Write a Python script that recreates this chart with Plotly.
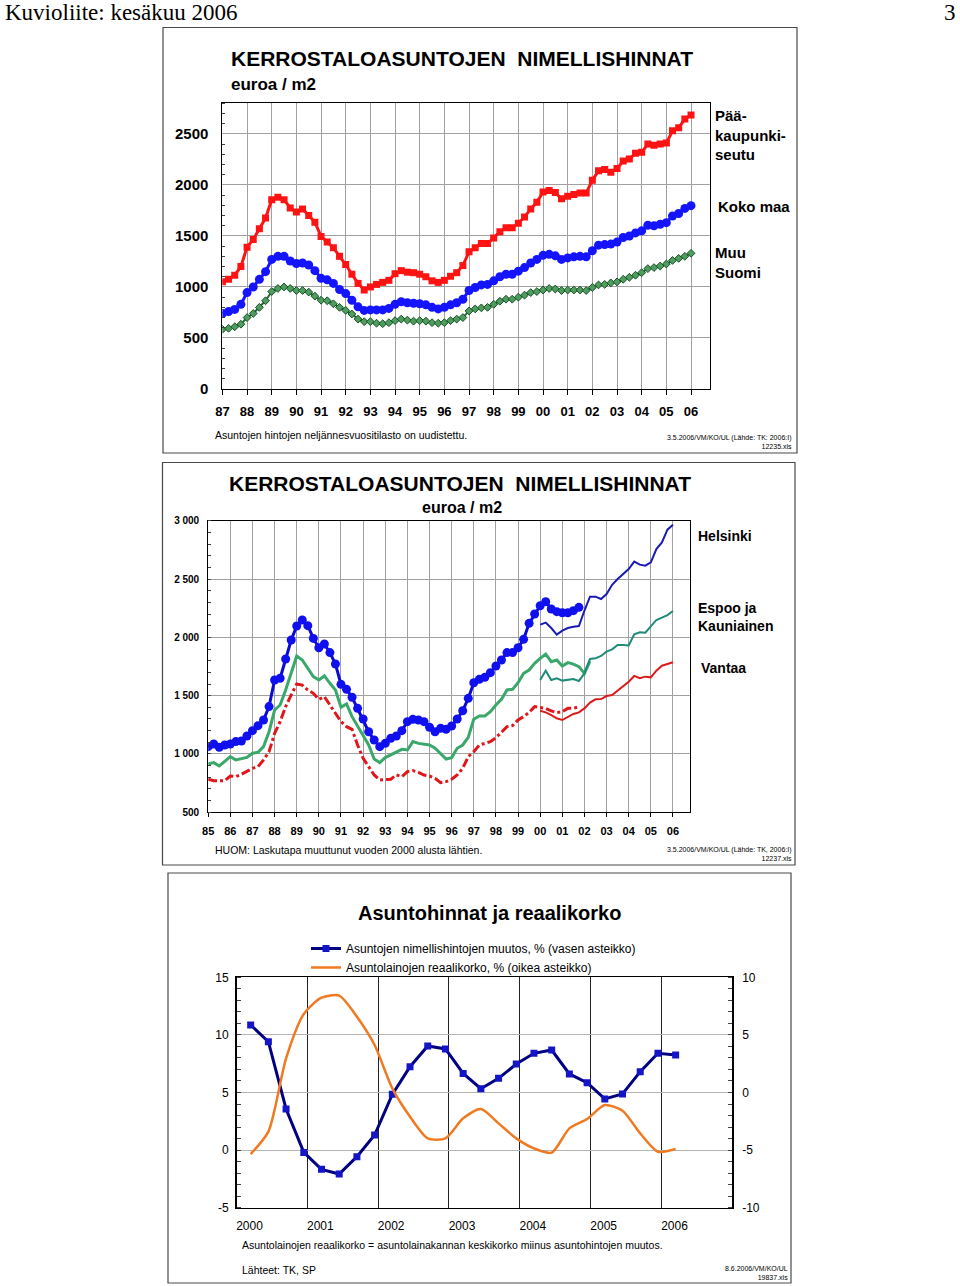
import plotly.graph_objects as go

W, H = 960, 1286
FONT = "Liberation Sans, Arial, sans-serif"

# ---------------- Chart 1 data: quarterly 1987Q1 - 2006Q1 (euro / m2) ----------------
c1_start_year = 1987
c1_year_labels = ["87", "88", "89", "90", "91", "92", "93", "94", "95", "96",
                  "97", "98", "99", "00", "01", "02", "03", "04", "05", "06"]
c1_paakaupunkiseutu = [
    1050, 1075, 1115, 1200,
    1390, 1465, 1570, 1675,
    1855, 1880, 1855, 1775,
    1735, 1765, 1700, 1635,
    1495, 1440, 1385, 1300,
    1220, 1125, 1035, 970,
    1000, 1025, 1045, 1065,
    1130, 1160, 1145, 1140,
    1125, 1100, 1060, 1045,
    1065, 1105, 1140, 1210,
    1345, 1385, 1425, 1425,
    1480, 1540, 1580, 1580,
    1625, 1685, 1765, 1830,
    1930, 1945, 1925, 1865,
    1890, 1905, 1920, 1920,
    2045, 2140, 2150, 2125,
    2160, 2235, 2255, 2310,
    2320, 2400, 2390, 2400,
    2410, 2530, 2560, 2645,
    2685]
c1_koko_maa = [
    740, 760, 780, 830,
    945, 1000, 1075, 1150,
    1270, 1300, 1300, 1255,
    1230, 1235, 1215, 1160,
    1085, 1070, 1035, 975,
    935, 870, 805, 770,
    775, 775, 775, 790,
    830, 855, 845, 840,
    835, 825, 800, 785,
    800, 825, 845, 880,
    965, 995, 1020, 1025,
    1060, 1100, 1125, 1125,
    1155, 1190, 1235, 1270,
    1310, 1320, 1305, 1270,
    1285, 1295, 1300, 1295,
    1355, 1410, 1415, 1420,
    1440, 1485, 1500, 1530,
    1550, 1605, 1600, 1615,
    1630, 1695, 1720, 1770,
    1797]
c1_muu_suomi = [
    585, 595, 610, 635,
    700, 740, 800, 865,
    955, 985, 1000, 985,
    965, 965, 950, 910,
    870, 865, 835, 800,
    770, 735, 685, 660,
    660, 645, 640, 650,
    670, 685, 675, 665,
    670, 665, 650, 645,
    650, 670, 685, 700,
    765, 785, 795, 800,
    830, 860, 880, 880,
    900, 920, 945, 955,
    970, 985, 980, 965,
    970, 970, 970, 965,
    995, 1020, 1025, 1040,
    1050, 1075, 1095, 1115,
    1140, 1180, 1190, 1205,
    1225, 1260, 1280, 1300,
    1330]

# ---------------- Chart 2 data: quarterly, old method 1985Q1-, new method 2000Q1- ----------------
c2_start_old = 1985
c2_start_new = 2000
c2_year_labels = ["85", "86", "87", "88", "89", "90", "91", "92", "93", "94", "95",
                  "96", "97", "98", "99", "00", "01", "02", "03", "04", "05", "06"]
c2_y_ticks = [500, 1000, 1500, 2000, 2500, 3000]
c2_y_tick_labels = ["500", "1 000", "1 500", "2 000", "2 500", "3 000"]
c2_helsinki_old = [
    1063, 1086, 1057, 1077,
    1086, 1106, 1111, 1154,
    1200, 1243, 1291, 1406,
    1634, 1649, 1814, 1977,
    2097, 2149, 2100, 1991,
    1911, 1943, 1869, 1771,
    1597, 1554, 1486, 1391,
    1300, 1191, 1120, 1063,
    1091, 1134, 1154, 1200,
    1277, 1297, 1291, 1277,
    1229, 1191, 1220, 1211,
    1240, 1300, 1371, 1477,
    1611, 1640, 1657, 1697,
    1754, 1806, 1869, 1869,
    1911, 1983, 2120, 2200,
    2271, 2306, 2243, 2220,
    2211, 2211, 2229, 2257]
c2_helsinki_new = [
    2109, 2126, 2080, 2023,
    2057, 2080, 2091, 2097,
    2230, 2349, 2349, 2329,
    2371, 2451, 2500, 2543,
    2586, 2649, 2623, 2614,
    2643, 2757, 2814, 2923,
    2966]
c2_espoo_old = [
    914, 926, 897, 934,
    977, 949, 957, 971,
    1006, 1014, 1063, 1191,
    1377, 1420, 1549, 1691,
    1840, 1806, 1729, 1663,
    1634, 1669, 1606, 1549,
    1400, 1429, 1320, 1240,
    1154, 1077, 957, 926,
    969, 991, 1014, 1040,
    1034, 1106, 1091, 1086,
    1077, 1049, 1006, 957,
    969, 1049, 1077, 1143,
    1297, 1326, 1326, 1363,
    1420, 1469, 1549, 1554,
    1611, 1691, 1720, 1777,
    1820, 1857, 1791, 1806,
    1754, 1783, 1771, 1749,
    1691, 1797]
c2_espoo_new = [
    1634, 1714, 1634, 1649,
    1629, 1634, 1643, 1626,
    1691, 1814, 1820, 1840,
    1877, 1897, 1934, 1934,
    1931, 2026, 2043, 2040,
    2091, 2149, 2169, 2191,
    2226]
c2_vantaa_old = [
    783, 771, 771, 771,
    811, 806, 826, 849,
    877, 891, 949, 1020,
    1177, 1277, 1406, 1506,
    1600, 1591, 1549, 1520,
    1469, 1491, 1420, 1349,
    1277, 1234, 1211, 1077,
    963, 891, 820, 777,
    777, 783, 820, 806,
    849, 857, 843, 820,
    811, 791, 754, 763,
    783, 820, 877, 977,
    1020, 1077, 1091, 1106,
    1140, 1183, 1234, 1243,
    1291, 1320, 1357, 1406,
    1400, 1391, 1369, 1354,
    1363, 1391, 1391, 1406]
c2_vantaa_new = [
    1371, 1357, 1334, 1306,
    1291, 1320, 1343, 1357,
    1391, 1440, 1469, 1471,
    1497, 1506, 1543, 1586,
    1620, 1669, 1649, 1663,
    1657, 1714, 1757, 1771,
    1786]

# ---------------- Chart 3 data: quarterly 2000Q1 - 2006Q1 ----------------
c3_years = [2000, 2001, 2002, 2003, 2004, 2005, 2006]
c3_year_labels = ["2000", "2001", "2002", "2003", "2004", "2005", "2006"]
c3_left_ticks = [-5, 0, 5, 10, 15]
c3_left_tick_labels = ["-5", "0", "5", "10", "15"]
c3_right_ticks = [-10, -5, 0, 5, 10]
c3_right_tick_labels = ["-10", "-5", "0", "5", "10"]
c3_first_quarter_pos = 0.2   # points sit a little after the year line
c3_price_change = [10.86, 9.41, 3.57, -0.20, -1.67, -2.08, -0.57, 1.31, 4.84, 7.24,
                   9.04, 8.78, 6.66, 5.33, 6.23, 7.47, 8.40, 8.69, 6.61, 5.85,
                   4.44, 4.87, 6.81, 8.40, 8.26]
c3_real_rate = [-5.34, -3.40, 2.97, 6.82, 8.23, 8.41, 6.58, 4.12, 0.36, -2.10,
                -3.98, -3.98, -2.24, -1.43, -2.68, -3.98, -4.85, -5.22, -3.11, -2.30,
                -1.09, -1.58, -3.55, -5.14, -4.91]


def qx(start, n):
    return [start + i / 4 for i in range(n)]


def px(x):
    return x / W


def py(y):
    return 1 - y / H


fig = go.Figure()

# ---------- Chart 1 traces ----------
fig.add_trace(go.Scatter(
    x=qx(c1_start_year, len(c1_paakaupunkiseutu)), y=c1_paakaupunkiseutu,
    mode="lines+markers", line=dict(color="#ff1212", width=3),
    marker=dict(symbol="square", size=7, color="#ff1212"),
    xaxis="x", yaxis="y", showlegend=False, hoverinfo="skip"))
fig.add_trace(go.Scatter(
    x=qx(c1_start_year, len(c1_koko_maa)), y=c1_koko_maa,
    mode="lines+markers", line=dict(color="#1414ff", width=3),
    marker=dict(symbol="circle", size=9, color="#1414ff"),
    xaxis="x", yaxis="y", showlegend=False, hoverinfo="skip"))
fig.add_trace(go.Scatter(
    x=qx(c1_start_year, len(c1_muu_suomi)), y=c1_muu_suomi,
    mode="lines+markers", line=dict(color="#1d6a2e", width=2),
    marker=dict(symbol="diamond", size=6, color="#4f9d5c",
                line=dict(color="#16502a", width=1)),
    xaxis="x", yaxis="y", showlegend=False, hoverinfo="skip"))

# ---------- Chart 2 traces ----------
fig.add_trace(go.Scatter(
    x=qx(c2_start_old, len(c2_vantaa_old)), y=c2_vantaa_old,
    mode="lines", line=dict(color="#e0161a", width=3, dash="dashdot"),
    xaxis="x2", yaxis="y2", showlegend=False, hoverinfo="skip"))
fig.add_trace(go.Scatter(
    x=qx(c2_start_new, len(c2_vantaa_new)), y=c2_vantaa_new,
    mode="lines", line=dict(color="#dd1a1a", width=2),
    xaxis="x2", yaxis="y2", showlegend=False, hoverinfo="skip"))
fig.add_trace(go.Scatter(
    x=qx(c2_start_old, len(c2_espoo_old)), y=c2_espoo_old,
    mode="lines", line=dict(color="#3aa86a", width=3),
    xaxis="x2", yaxis="y2", showlegend=False, hoverinfo="skip"))
fig.add_trace(go.Scatter(
    x=qx(c2_start_new, len(c2_espoo_new)), y=c2_espoo_new,
    mode="lines", line=dict(color="#1e8a78", width=2),
    xaxis="x2", yaxis="y2", showlegend=False, hoverinfo="skip"))
fig.add_trace(go.Scatter(
    x=qx(c2_start_old, len(c2_helsinki_old)), y=c2_helsinki_old,
    mode="lines+markers", line=dict(color="#0a0ad2", width=3),
    marker=dict(symbol="circle", size=9, color="#1010ee"),
    xaxis="x2", yaxis="y2", showlegend=False, hoverinfo="skip"))
fig.add_trace(go.Scatter(
    x=qx(c2_start_new, len(c2_helsinki_new)), y=c2_helsinki_new,
    mode="lines", line=dict(color="#1a1ab4", width=2),
    xaxis="x2", yaxis="y2", showlegend=False, hoverinfo="skip"))

# ---------- Chart 3 traces ----------
c3_x = [c3_years[0] + c3_first_quarter_pos + i / 4 for i in range(len(c3_price_change))]
fig.add_trace(go.Scatter(
    x=c3_x, y=c3_price_change, mode="lines+markers",
    name="Asuntojen nimellishintojen muutos, % (vasen asteikko)",
    line=dict(color="#000080", width=3),
    marker=dict(symbol="square", size=7, color="#1414c8"),
    xaxis="x3", yaxis="y3", hoverinfo="skip"))
fig.add_trace(go.Scatter(
    x=c3_x, y=c3_real_rate, mode="lines",
    name="Asuntolainojen reaalikorko, % (oikea asteikko)",
    line=dict(color="#f07a22", width=2.5, shape="spline", smoothing=0.7),
    xaxis="x3", yaxis="y4", hoverinfo="skip"))

GRID = "#a0a0a0"

fig.update_layout(
    width=W, height=H, autosize=False,
    margin=dict(l=0, r=0, t=0, b=0, pad=0, autoexpand=False),
    paper_bgcolor="white", plot_bgcolor="white",
    font=dict(family=FONT, color="black"),
    legend=dict(x=px(306), y=py(934), xanchor="left", yanchor="top",
                font=dict(size=12, family=FONT), bgcolor="rgba(0,0,0,0)",
                tracegroupgap=0, itemwidth=30),
    # chart 1
    xaxis=dict(domain=[px(222.4), px(710)], range=[1987, 2006.77],
               tickmode="array", tickvals=list(range(1987, 1987 + len(c1_year_labels))),
               ticktext=c1_year_labels, ticks="outside", ticklen=5, tickcolor="black",
               showgrid=True, gridcolor=GRID, gridwidth=1,
               showline=True, linecolor="black", linewidth=1, mirror=True,
               tickfont=dict(size=13, family=FONT, weight="bold"),
               ticklabelstandoff=5, zeroline=False, fixedrange=True, automargin=False),
    yaxis=dict(domain=[py(389), py(103.3)], range=[0, 2800], dtick=500, tick0=0,
               ticks="", showgrid=True, gridcolor=GRID, gridwidth=1,
               showline=True, linecolor="black", linewidth=1, mirror=True,
               minor=dict(dtick=100, ticks="inside", ticklen=3, tickcolor="#444", showgrid=False),
               tickfont=dict(size=15, family=FONT, weight="bold"),
               ticklabelstandoff=10, zeroline=False, fixedrange=True, automargin=False),
    # chart 2
    xaxis2=dict(domain=[px(208.2), px(689.8)], range=[1985, 2006.76],
                tickmode="array", tickvals=list(range(1985, 1985 + len(c2_year_labels))),
                ticktext=c2_year_labels, ticks="outside", ticklen=4, tickcolor="black",
                showgrid=True, gridcolor=GRID, gridwidth=1,
                showline=True, linecolor="black", linewidth=1, mirror=True,
                tickfont=dict(size=11, family=FONT, weight="bold"),
                ticklabelstandoff=4, zeroline=False, fixedrange=True, anchor="y2",
                automargin=False),
    yaxis2=dict(domain=[py(812.3), py(520.7)], range=[500, 3000],
                tickmode="array", tickvals=c2_y_ticks, ticktext=c2_y_tick_labels,
                ticks="", showgrid=True, gridcolor=GRID, gridwidth=1,
                showline=True, linecolor="black", linewidth=1, mirror=True,
                minor=dict(dtick=100, tick0=500, ticks="inside", ticklen=3, tickcolor="#444",
                           showgrid=False),
                tickfont=dict(size=10, family=FONT, weight="bold"),
                ticklabelstandoff=6, zeroline=False, fixedrange=True, anchor="x2",
                automargin=False),
    # chart 3
    xaxis3=dict(domain=[px(236.5), px(732.3)], range=[2000, 2007],
                tickmode="array", tickvals=c3_years, ticktext=c3_year_labels,
                ticks="", showgrid=True, gridcolor="#222222", gridwidth=1,
                showline=True, linecolor="black", linewidth=1.5, mirror=True,
                tickfont=dict(size=12, family=FONT),
                ticklabelshift=13, ticklabelstandoff=6,
                zeroline=False, fixedrange=True, anchor="y3", automargin=False),
    yaxis3=dict(domain=[py(1207.7), py(977.3)], range=[-5, 15],
                tickmode="array", tickvals=c3_left_ticks, ticktext=c3_left_tick_labels,
                ticks="", showgrid=True, gridcolor="#b4b4b4", gridwidth=1,
                showline=True, linecolor="black", linewidth=1.5, mirror=True,
                minor=dict(dtick=1, tick0=0, ticks="inside", ticklen=4, tickcolor="#444",
                           showgrid=False),
                tickfont=dict(size=12, family=FONT),
                ticklabelstandoff=4, zeroline=False, fixedrange=True, anchor="x3",
                automargin=False),
    yaxis4=dict(range=[-10, 10], tickmode="array", tickvals=c3_right_ticks,
                ticktext=c3_right_tick_labels, overlaying="y3", side="right",
                ticks="", showgrid=False, showline=True, linecolor="black", linewidth=1.5,
                minor=dict(dtick=1, tick0=0, ticks="inside", ticklen=4, tickcolor="#444",
                           showgrid=False),
                tickfont=dict(size=12, family=FONT),
                ticklabelstandoff=6, zeroline=False, fixedrange=True, anchor="x3",
                automargin=False),
)

# ---------- page boxes ----------
boxes = [(163, 27.5, 797, 453), (162.5, 462.5, 795, 865), (168, 873, 791, 1283)]
for (x0, y0, x1, y1) in boxes:
    fig.add_shape(type="rect", xref="paper", yref="paper",
                  x0=px(x0), x1=px(x1), y0=py(y1), y1=py(y0),
                  line=dict(color="#4a4a4a", width=1.2), layer="below")


def ann(text, x, y, size, bold=False, xanchor="left", yanchor="middle",
        family=FONT, align="left"):
    fig.add_annotation(text=text, x=px(x), y=py(y), xref="paper", yref="paper",
                       xanchor=xanchor, yanchor=yanchor, showarrow=False, align=align,
                       font=dict(size=size, family=family, color="black",
                                 weight="bold" if bold else "normal"))


SERIF = "Liberation Serif, Times New Roman, serif"
ann("Kuvioliite: kesäkuu 2006", 3, 12, 23, family=SERIF)
ann("3", 958, 12, 23, family=SERIF, xanchor="right")

# chart 1 texts
ann("KERROSTALOASUNTOJEN  NIMELLISHINNAT", 229, 59, 21, bold=True)
ann("euroa / m2", 229, 84, 17, bold=True)
ann("Pää-<br>kaupunki-<br>seutu", 713, 135, 15, bold=True)
ann("Koko maa", 716, 206, 15, bold=True)
ann("Muu<br>Suomi", 713, 262, 15, bold=True)
ann("Asuntojen hintojen neljännesvuositilasto on uudistettu.", 213, 435, 10.5)
ann("3.5.2006/VM/KO/UL (Lähde: TK: 2006:I)<br>12235.xls", 794, 441.5, 7,
    xanchor="right", align="right")

# chart 2 texts
ann("KERROSTALOASUNTOJEN  NIMELLISHINNAT", 459.5, 483, 21, bold=True, xanchor="center")
ann("euroa / m2", 461.5, 507, 16, bold=True, xanchor="center")
ann("Helsinki", 696, 536, 14, bold=True)
ann("Espoo ja<br>Kauniainen", 696, 617, 14, bold=True)
ann("Vantaa", 699, 668, 14, bold=True)
ann("HUOM: Laskutapa muuttunut vuoden 2000 alusta lähtien.", 213, 850, 10.5)
ann("3.5.2006/VM/KO/UL (Lähde: TK, 2006:I)<br>12237.xls", 794, 853.5, 7,
    xanchor="right", align="right")

# chart 3 texts
ann("Asuntohinnat ja reaalikorko", 490, 913, 20, bold=True, xanchor="center")
ann("Asuntolainojen reaalikorko = asuntolainakannan keskikorko miinus asuntohintojen muutos.",
    240, 1244.5, 10.5)
ann("Lähteet: TK, SP", 240, 1270, 10.5)
ann("8.6.2006/VM/KO/UL<br>19837.xls", 790, 1272.5, 7, xanchor="right", align="right")

fig.write_html("out.html", config={"displayModeBar": False, "staticPlot": True},
               post_script="document.body.style.margin='0px';")
